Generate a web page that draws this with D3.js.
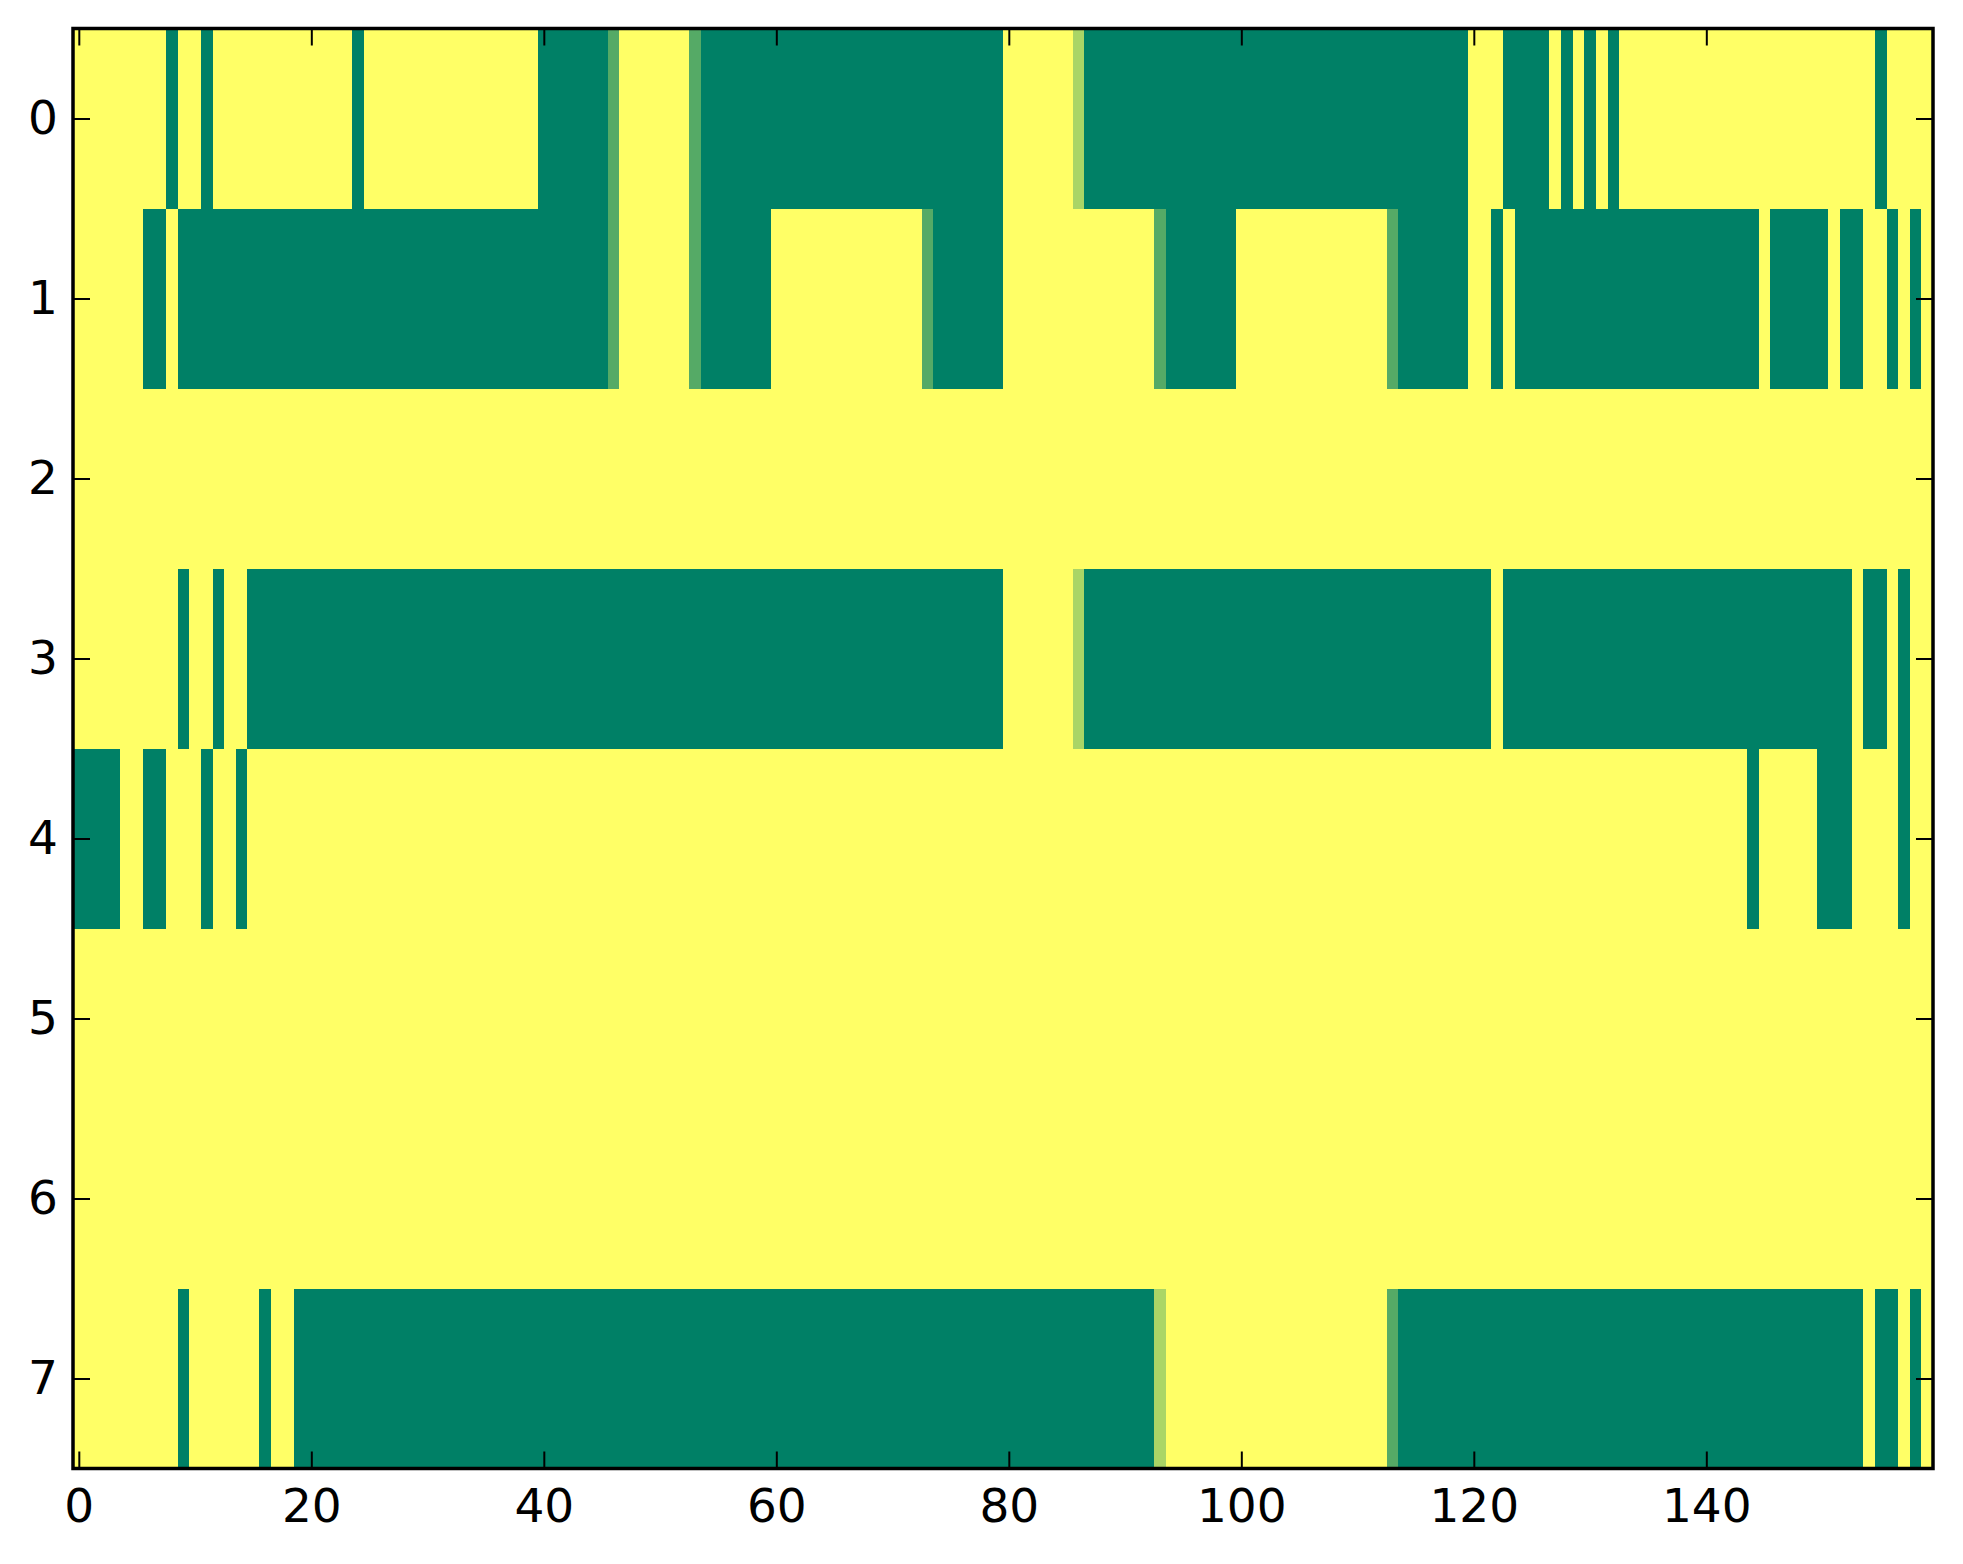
<!DOCTYPE html>
<html>
<head>
<meta charset="utf-8">
<script src="https://cdn.jsdelivr.net/npm/d3@7"></script>
<style>
  body { margin: 0; background: #fff; }
  text { font-family: "DejaVu Sans", sans-serif; }
</style>
</head>
<body>
<div id="chart"></div>
<script>
// each row as runs of [value, count], read left to right (160 columns)
// 1 = yellow, 0 = green, 1/3 and 2/3 = the pale transition cells
const row0 = [[1,8],[0,1],[1,2],[0,1],[1,12],[0,1],[1,15],[0,6],[1/3,1],[1,6],[1/3,1],[0,26],
  [1,6],[2/3,1],[0,33],[1,3],[0,4],[1,1],[0,1],[1,1],[0,1],[1,1],[0,1],[1,22],[0,1],[1,4]];
const row1 = [[1,6],[0,2],[1,1],[0,37],[1/3,1],[1,6],[1/3,1],[0,6],[1,13],[1/3,1],[0,6],[1,13],
  [1/3,1],[0,6],[1,13],[1/3,1],[0,6],[1,2],[0,1],[1,1],[0,21],[1,1],[0,5],[1,1],[0,2],[1,2],
  [0,1],[1,1],[0,1],[1,1]];
const row2 = [[1,160]];
const row3 = [[1,9],[0,1],[1,2],[0,1],[1,2],[0,65],[1,6],[2/3,1],[0,35],[1,1],[0,30],[1,1],
  [0,2],[1,1],[0,1],[1,2]];
const row4 = [[0,4],[1,2],[0,2],[1,3],[0,1],[1,2],[0,1],[1,129],[0,1],[1,5],[0,3],[1,4],[0,1],[1,2]];
const row5 = [[1,160]];
const row6 = [[1,160]];
const row7 = [[1,9],[0,1],[1,6],[0,1],[1,2],[0,74],[2/3,1],[1,19],[1/3,1],[0,40],[1,1],[0,2],
  [1,1],[0,1],[1,1]];

const rows = [row0, row1, row2, row3, row4, row5, row6, row7];
const xTicks = [0, 20, 40, 60, 80, 100, 120, 140];
const yTicks = [0, 1, 2, 3, 4, 5, 6, 7];

// expand runs into cells
const cells = [];
rows.forEach((runs, r) => {
  let c = 0;
  runs.forEach(([v, n]) => {
    for (let k = 0; k < n; k++) { cells.push({row: r, col: c, value: v}); c++; }
  });
});
const nCols = 160;

const width = 1963, height = 1564;
const plotLeft = 73, plotRight = 1933, plotTop = 28.5, plotBottom = 1468.5;

const svg = d3.select("#chart").append("svg")
  .attr("width", width)
  .attr("height", height);

const x = d3.scaleLinear().domain([-0.5, nCols - 0.5]).range([plotLeft, plotRight]);
const y = d3.scaleLinear().domain([-0.5, rows.length - 0.5]).range([plotTop, plotBottom]);

// matplotlib "summer" colormap
const color = d3.scaleLinear().domain([0, 1]).range(["#008066", "#ffff66"]);

svg.append("g")
  .attr("shape-rendering", "crispEdges")
  .selectAll("rect")
  .data(cells)
  .enter()
  .append("rect")
  .attr("x", d => x(d.col - 0.5))
  .attr("y", d => y(d.row - 0.5))
  .attr("width", x(1) - x(0) + 0.5)
  .attr("height", y(1) - y(0) + 0.5)
  .attr("fill", d => color(d.value));

const tickLen = 17, fontSize = 47;

function styleAxis(g) {
  g.select(".domain").remove();
  g.selectAll(".tick line").attr("stroke", "#000").attr("stroke-width", 2);
  g.selectAll(".tick text").attr("fill", "#000").style("font-size", fontSize + "px")
    .style("font-family", "'DejaVu Sans', sans-serif");
}

svg.append("g")
  .attr("transform", `translate(0,${plotBottom})`)
  .call(d3.axisBottom(x).tickValues(xTicks).tickSizeInner(-tickLen).tickSizeOuter(0).tickPadding(20))
  .call(styleAxis);

svg.append("g")
  .attr("transform", `translate(0,${plotTop})`)
  .call(d3.axisTop(x).tickValues(xTicks).tickSizeInner(-tickLen).tickSizeOuter(0).tickFormat(""))
  .call(styleAxis);

svg.append("g")
  .attr("transform", `translate(${plotLeft},0)`)
  .call(d3.axisLeft(y).tickValues(yTicks).tickSizeInner(-tickLen).tickSizeOuter(0).tickPadding(15))
  .call(styleAxis);

svg.append("g")
  .attr("transform", `translate(${plotRight},0)`)
  .call(d3.axisRight(y).tickValues(yTicks).tickSizeInner(-tickLen).tickSizeOuter(0).tickFormat(""))
  .call(styleAxis);

// frame
svg.append("rect")
  .attr("x", plotLeft)
  .attr("y", plotTop)
  .attr("width", plotRight - plotLeft)
  .attr("height", plotBottom - plotTop)
  .attr("fill", "none")
  .attr("stroke", "#000")
  .attr("stroke-width", 3.5);
</script>
</body>
</html>
